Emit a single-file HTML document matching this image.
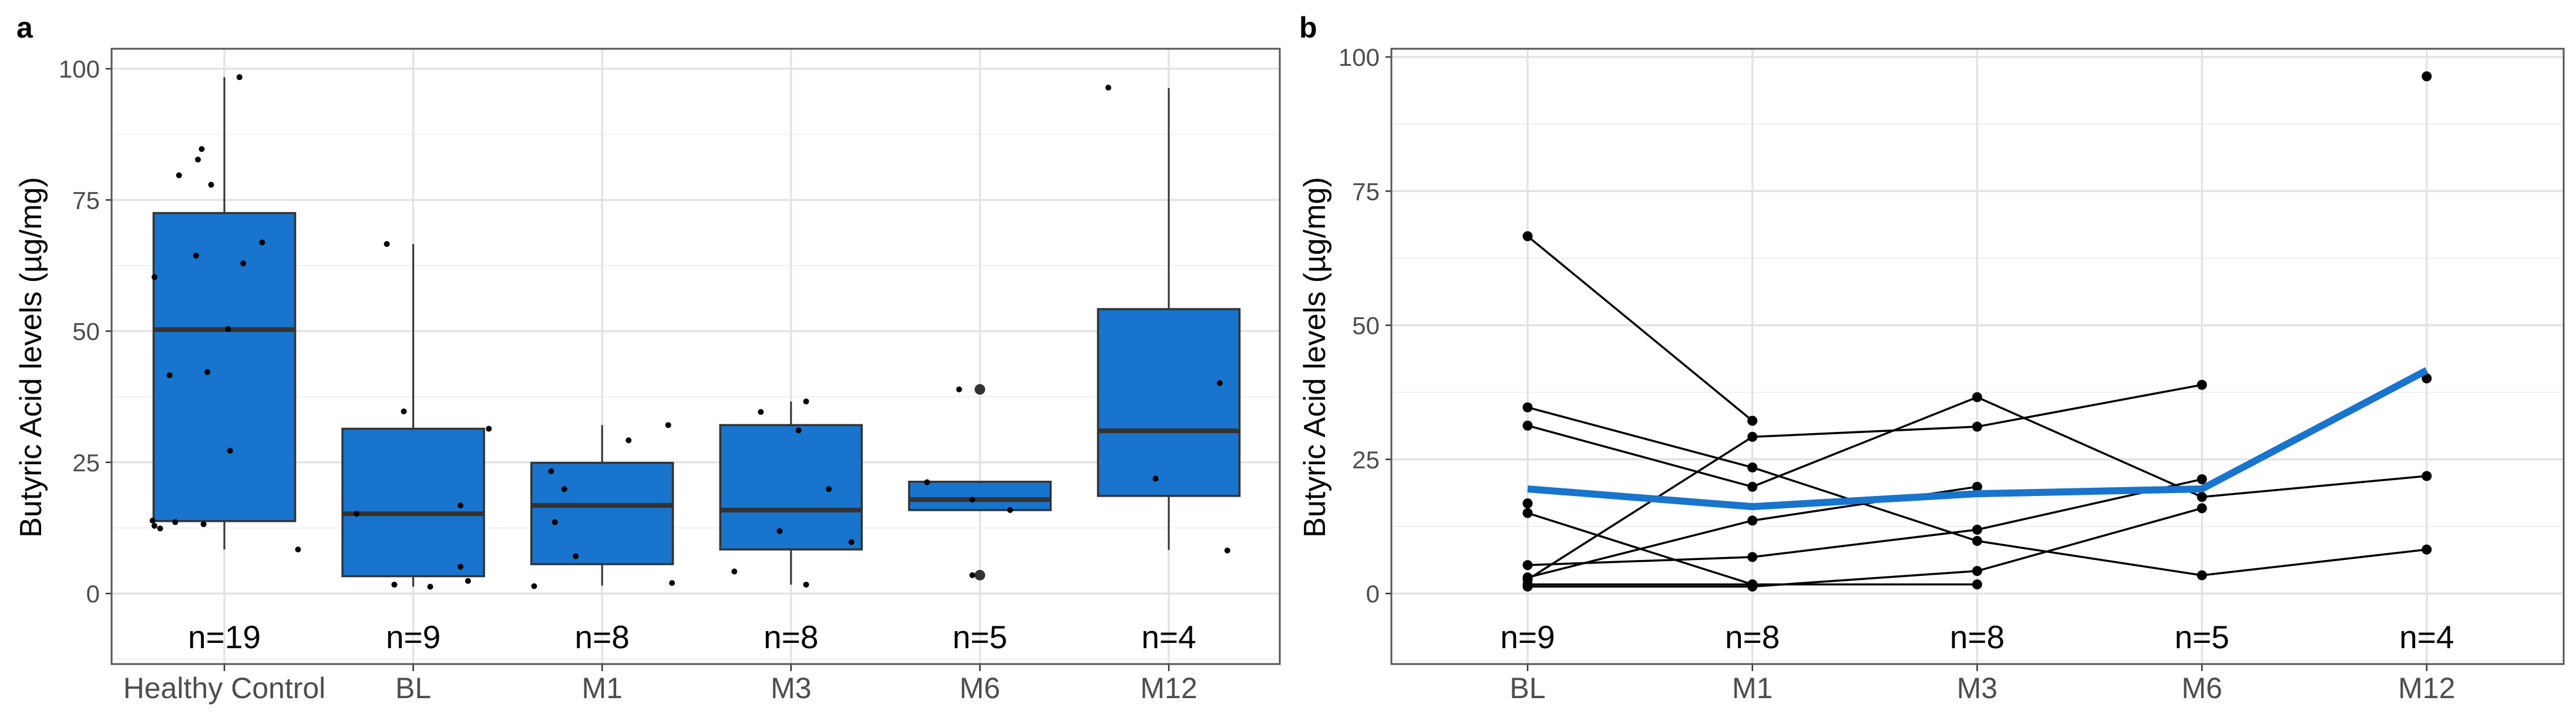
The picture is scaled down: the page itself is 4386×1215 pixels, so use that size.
<!DOCTYPE html>
<html><head><meta charset="utf-8">
<style>html,body{margin:0;padding:0;background:#fff}svg{display:block}text{font-family:"Liberation Sans",Arial,sans-serif}</style>
</head><body>
<svg id="fig" width="4386" height="1215" viewBox="0 0 4386 1215" xmlns="http://www.w3.org/2000/svg">
<g id="pa"></g>
<g id="pb"></g>
</svg>
<script>
// ---- Panel a data ----
const catsA = ["Healthy Control","BL","M1","M3","M6","M12"];
const nA = ["n=19","n=9","n=8","n=8","n=5","n=4"];
const q1A = [13.8,3.3,5.6,8.4,15.9,18.6];
const medA = [50.3,15.2,16.8,15.9,17.9,31.0];
const q3A = [72.5,31.4,24.9,32.1,21.3,54.2];
const wloA = [8.4,1.3,1.5,1.7,15.9,8.3];
const whiA = [98.4,66.6,32.1,36.6,21.3,96.3];
const outCatA = [4,4];
const outValA = [38.9,3.5];
const ptCatA = [0,0,0,0,0,0,0,0,0,0,0,0,0,0,0,0,0,0,0, 1,1,1,1,1,1,1,1,1, 2,2,2,2,2,2,2,2, 3,3,3,3,3,3,3,3, 4,4,4,4,4, 5,5,5,5];
const ptJitA = [-0.37,-0.38,-0.37,-0.34,-0.29,-0.26,-0.24,-0.15,-0.14,-0.12,-0.11,-0.09,-0.07,0.02,0.03,0.08,0.10,0.20,0.39,
 -0.30,-0.14,-0.10,-0.05,0.09,0.25,0.25,0.29,0.40,
 -0.36,-0.27,-0.25,-0.20,-0.14,0.14,0.35,0.37,
 -0.30,-0.16,-0.06,0.04,0.08,0.08,0.20,0.32,
 -0.28,-0.11,-0.04,0.16,-0.04,
 -0.32,-0.07,0.27,0.31];
const ptValA = [60.3,13.9,12.9,12.4,41.6,13.6,79.7,64.4,82.7,84.7,13.2,42.2,77.9,50.4,27.2,98.4,62.9,66.9,8.4,
 15.2,66.6,1.7,34.7,1.3,16.8,5.1,2.4,31.4,
 1.4,23.3,13.6,19.9,7.1,29.2,32.1,2.0,
 4.2,34.6,11.9,31.1,36.6,1.7,19.9,9.8,
 21.2,38.9,17.9,15.9,3.5,
 96.4,21.9,40.1,8.2];
// ---- Panel b data ----
const catsB = ["BL","M1","M3","M6","M12"];
const nB = ["n=9","n=8","n=8","n=5","n=4"];
const subjStart = [0,0,0,0,0,0,0,0,0,0,4,4];
const subjVals = [
 [66.6,32.2],
 [34.7,23.5,9.8,3.4,8.2],
 [31.3,19.9,36.6,18.0,21.9],
 [2.6,29.2,31.1,38.9],
 [15.0,1.7],
 [5.3,6.8,11.9,21.3],
 [3.0,13.6,19.9],
 [1.3,1.3,4.2,15.9],
 [1.7,1.7,1.7],
 [16.8],
 [96.4],
 [40.1]
];
const meanB = [19.5,16.2,18.6,19.5,41.6];

const NS="http://www.w3.org/2000/svg";
function mk(parent,tag,attrs,txt){const e=document.createElementNS(NS,tag);for(const k in attrs)e.setAttribute(k,attrs[k]);if(txt!==undefined)e.textContent=txt;parent.appendChild(e);return e;}

function frame(g,L,R,T,B,y,cx,cats,ns){
  mk(g,"rect",{x:L,y:T,width:R-L,height:B-T,fill:"#fff"});
  [-12.5,12.5,37.5,62.5,87.5].forEach(v=>{if(y(v)>T&&y(v)<B)mk(g,"line",{x1:L,x2:R,y1:y(v),y2:y(v),stroke:"#f0f0f0","stroke-width":2});});
  [0,25,50,75,100].forEach(v=>{const l=mk(g,"line",{x1:L,x2:R,y1:y(v),y2:y(v),stroke:"#e3e3e3","stroke-width":3.5});
    
    
    const t=mk(g,"text",{x:L-20,y:y(v)+15,"text-anchor":"end","font-size":42,fill:"#4d4d4d"},String(v));
    
    
    mk(g,"line",{x1:L-10,x2:L,y1:y(v),y2:y(v),stroke:"#333","stroke-width":2.5});});
  cats.forEach((c,i)=>{mk(g,"line",{x1:cx(i),x2:cx(i),y1:T,y2:B,stroke:"#e3e3e3","stroke-width":3.5});
    mk(g,"line",{x1:cx(i),x2:cx(i),y1:B,y2:B+12,stroke:"#333","stroke-width":2.5});
    const t=mk(g,"text",{x:cx(i),y:1188,"text-anchor":"middle","font-size":50,fill:"#4d4d4d"},c);
    
    
    const n=mk(g,"text",{x:cx(i),y:1103,"text-anchor":"middle","font-size":55,fill:"#000"},ns[i]);
    
    });
  return ()=>{mk(g,"rect",{x:L,y:T,width:R-L,height:B-T,fill:"none",stroke:"#555","stroke-width":3});};
}

// Panel a
(function(){
  const g=document.getElementById('pa');
  const L=190,R=2179,T=83,B=1130;
  const y=v=>1010-v*8.93;
  const cx=i=>382+i*321.6;
  const border=frame(g,L,R,T,B,y,cx,catsA,nA);
  const bw=241;
  catsA.forEach((c,i)=>{
    const bx=mk(g,"g",{});
    
    
    mk(bx,"line",{x1:cx(i),x2:cx(i),y1:y(whiA[i]),y2:y(q3A[i]),stroke:"#333","stroke-width":3});
    mk(bx,"line",{x1:cx(i),x2:cx(i),y1:y(q1A[i]),y2:y(wloA[i]),stroke:"#333","stroke-width":3});
    mk(bx,"rect",{x:cx(i)-bw/2,y:y(q3A[i]),width:bw,height:y(q1A[i])-y(q3A[i]),fill:"#1874CD",stroke:"#333","stroke-width":3.5});
    mk(bx,"line",{x1:cx(i)-bw/2,x2:cx(i)+bw/2,y1:y(medA[i]),y2:y(medA[i]),stroke:"#333","stroke-width":8});
  });
  outCatA.forEach((c,i)=>{const o=mk(g,"circle",{cx:cx(c),cy:y(outValA[i]),r:9,fill:"#333"});
    
    });
  ptCatA.forEach((c,i)=>{const p=mk(g,"circle",{cx:cx(c)+ptJitA[i]*321.6,cy:y(ptValA[i]),r:5,fill:"#000"});
    
    });
  border();
  const yt=mk(g,"text",{x:0,y:0,transform:"translate(70,608) rotate(-90)","text-anchor":"middle","font-size":52,fill:"#000"},"Butyric Acid levels (µg/mg)");
  
  
  const lb=mk(g,"text",{x:28,y:64,"font-size":50,"font-weight":"bold",fill:"#000"},"a");
  
  
})();

// Panel b
(function(){
  const g=document.getElementById('pb');
  const L=2369,R=4365,T=83,B=1130;
  const y=v=>1010-v*9.13;
  const cx=i=>2601+i*382.7;
  const border=frame(g,L,R,T,B,y,cx,catsB,nB);
  subjVals.forEach((vals,s)=>{
    if(vals.length>1){
      const pts=vals.map((v,k)=>cx(subjStart[s]+k)+","+y(v)).join(" ");
      const pl=mk(g,"polyline",{points:pts,fill:"none",stroke:"#000","stroke-width":3.5});
      
      
    }
    vals.forEach((v,k)=>{const c=mk(g,"circle",{cx:cx(subjStart[s]+k),cy:y(v),r:8.5,fill:"#000"});
      
      });
  });
  const ml=mk(g,"polyline",{points:meanB.map((v,i)=>cx(i)+","+y(v)).join(" "),fill:"none",stroke:"#1874CD","stroke-width":12,"stroke-linejoin":"round"});
  
  
  border();
  const yt=mk(g,"text",{x:0,y:0,transform:"translate(2256,608) rotate(-90)","text-anchor":"middle","font-size":52,fill:"#000"},"Butyric Acid levels (µg/mg)");
  
  
  const lb=mk(g,"text",{x:2212,y:64,"font-size":50,"font-weight":"bold",fill:"#000"},"b");
  
  
})();
</script>
</body></html>
